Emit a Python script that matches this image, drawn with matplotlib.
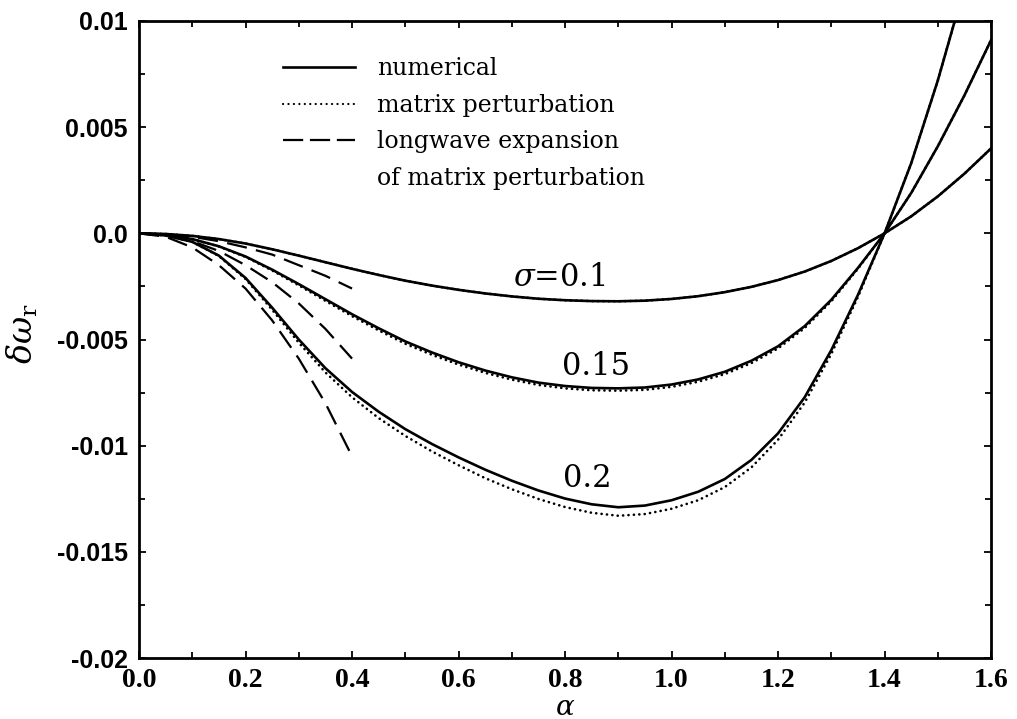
import matplotlib
matplotlib.use("Agg")
import matplotlib.pyplot as plt
from matplotlib.lines import Line2D
from matplotlib.ticker import MultipleLocator, FixedLocator

plt.rcParams["mathtext.fontset"] = "dejavuserif"

# wavenumber grid for the full curves
alpha = [0.0, 0.05, 0.1, 0.15, 0.2, 0.25, 0.3, 0.35, 0.4, 0.45, 0.5, 0.55, 0.6,
         0.65, 0.7, 0.75, 0.8, 0.85, 0.9, 0.95, 1.0, 1.05, 1.1, 1.15, 1.2, 1.25,
         1.3, 1.35, 1.4, 1.45, 1.5, 1.55, 1.6]

# numerical solution, one series per sigma
num_s010 = [0.0, -0.00003, -0.00012, -0.00027, -0.00048, -0.00075, -0.00105,
            -0.00136, -0.00167, -0.00196, -0.00223, -0.00246, -0.00266, -0.00283,
            -0.00297, -0.00308, -0.00315, -0.00319, -0.0032, -0.00317, -0.00309,
            -0.00296, -0.00277, -0.00252, -0.0022, -0.0018, -0.0013, -0.0007,
            0.0, 0.0008, 0.00174, 0.00281, 0.004]
num_s015 = [0.0, -0.00007, -0.00027, -0.00061, -0.00109, -0.00171, -0.00239,
            -0.0031, -0.00381, -0.00447, -0.00509, -0.00561, -0.00607, -0.00646,
            -0.00678, -0.00703, -0.00719, -0.00728, -0.0073, -0.00726, -0.00712,
            -0.00688, -0.00652, -0.006, -0.00532, -0.00437, -0.00313, -0.00163,
            0.0, 0.0019, 0.0041, 0.0065, 0.0091]
num_s020 = [0.0, -0.0001, -0.0004, -0.00105, -0.0021, -0.0035, -0.005, -0.00635,
            -0.00747, -0.0084, -0.00922, -0.00992, -0.01055, -0.01113, -0.01165,
            -0.01211, -0.01249, -0.01276, -0.0129, -0.01282, -0.01257, -0.01217,
            -0.01157, -0.01067, -0.00942, -0.00772, -0.0055, -0.0029, 0.0, 0.0033,
            0.0072, 0.0116, 0.0166]

# matrix perturbation results
mat_s010 = [0.0, -0.00003, -0.00012, -0.00027, -0.00048, -0.00075, -0.00105,
            -0.00136, -0.00167, -0.00196, -0.00223, -0.00246, -0.00266, -0.00283,
            -0.00297, -0.00308, -0.00315, -0.00319, -0.0032, -0.00317, -0.00309,
            -0.00296, -0.00277, -0.00252, -0.0022, -0.0018, -0.0013, -0.0007,
            0.0, 0.0008, 0.00174, 0.00281, 0.004]
mat_s015 = [0.0, -0.00007, -0.00027, -0.00062, -0.00111, -0.00175, -0.00245,
            -0.00318, -0.0039, -0.00457, -0.0052, -0.00572, -0.00618, -0.00657,
            -0.00689, -0.00714, -0.0073, -0.00739, -0.00741, -0.00737, -0.00723,
            -0.00699, -0.00663, -0.00611, -0.00542, -0.00446, -0.0032, -0.00167,
            0.0, 0.0019, 0.0041, 0.0065, 0.0091]
mat_s020 = [0.0, -0.0001, -0.0004, -0.00107, -0.00215, -0.0036, -0.00515, -0.00655,
            -0.00772, -0.0087, -0.00954, -0.01027, -0.01092, -0.01153, -0.01205,
            -0.01251, -0.01289, -0.01316, -0.0133, -0.01322, -0.01297, -0.01257,
            -0.01195, -0.01102, -0.00972, -0.00797, -0.00568, -0.003, 0.0, 0.0033,
            0.0072, 0.0116, 0.0166]

# longwave expansion of the matrix perturbation (small alpha only)
alpha_lw = [0.0, 0.05, 0.1, 0.15, 0.2, 0.25, 0.3, 0.35, 0.4]
lw_s010 = [0.0, -0.00004, -0.00016, -0.00037, -0.00066, -0.001, -0.0015, -0.002, -0.0026]
lw_s015 = [0.0, -0.00009, -0.00037, -0.00083, -0.0015, -0.0023, -0.0033, -0.0045, -0.0059]
lw_s020 = [0.0, -0.00016, -0.00066, -0.0015, -0.0026, -0.0041, -0.0059, -0.008, -0.0105]

sigma_labels = [r"$\sigma$=0.1", "0.15", "0.2"]
sigma_label_pos = [(0.789, -0.00206), (0.858, -0.00628), (0.842, -0.01153)]

legend_labels = ["numerical", "matrix perturbation", "longwave expansion",
                 "of matrix perturbation"]

x_ticks = [0.0, 0.2, 0.4, 0.6, 0.8, 1.0, 1.2, 1.4, 1.6]
x_ticklabels = ["0.0", "0.2", "0.4", "0.6", "0.8", "1.0", "1.2", "1.4", "1.6"]
y_ticks = [-0.02, -0.015, -0.01, -0.005, 0.0, 0.005, 0.01]
y_ticklabels = ["-0.02", "-0.015", "-0.01", "-0.005", "0.0", "0.005", "0.01"]

LW = 1.9
dotted = (0, (0.05, 2.0))
dashed = (0, (9.0, 4.2))

fig = plt.figure(figsize=(10.17, 7.19), dpi=100)
ax = fig.add_axes([0.1367, 0.0848, 0.8378, 0.886])

for ys in (mat_s010, mat_s015, mat_s020):
    ax.plot(alpha, ys, color="black", lw=LW, linestyle=dotted,
            dash_capstyle="round")
for ys in (num_s010, num_s015, num_s020):
    ax.plot(alpha, ys, color="black", lw=LW, linestyle="-",
            solid_joinstyle="round")
for ys in (lw_s010, lw_s015, lw_s020):
    ax.plot(alpha_lw, ys, color="black", lw=LW * 0.85, linestyle=dashed)

for txt, (xx, yy) in zip(sigma_labels, sigma_label_pos):
    ax.text(xx, yy, txt, ha="center", va="center", fontsize=22,
            family="DejaVu Serif")

ax.set_xlim(0.0, 1.6)
ax.set_ylim(-0.02, 0.01)

ax.xaxis.set_major_locator(FixedLocator(x_ticks))
ax.set_xticklabels(x_ticklabels, family="Liberation Serif", weight="bold",
                   fontsize=20)
ax.xaxis.set_minor_locator(MultipleLocator(0.1))
ax.yaxis.set_major_locator(FixedLocator(y_ticks))
ax.set_yticklabels(y_ticklabels, family="Liberation Sans", weight="bold",
                   fontsize=18)
ax.yaxis.set_minor_locator(MultipleLocator(0.0025))

ax.tick_params(which="both", direction="in", top=True, right=True,
               width=1.3)
ax.tick_params(which="major", length=5)
ax.tick_params(which="minor", length=4)
ax.tick_params(axis="x", which="major", pad=7)
ax.tick_params(axis="y", which="major", pad=8)

for sp in ax.spines.values():
    sp.set_linewidth(2.0)

ax.set_xlabel(r"$\alpha$", fontsize=20, labelpad=0)
ax.set_ylabel(r"$\delta\omega_{\rm r}$", fontsize=24)
ax.yaxis.set_label_coords(-0.116, 0.509)

handles = [
    Line2D([], [], color="black", lw=LW, linestyle="-"),
    Line2D([], [], color="black", lw=1.6, linestyle=(0, (0.05, 2.4)),
           dash_capstyle="round"),
    Line2D([], [], color="black", lw=LW * 0.85, linestyle=(0, (9, 3))),
    Line2D([], [], linestyle="none"),
]
ax.legend(handles, legend_labels, loc="upper left",
          bbox_to_anchor=(0.169, 0.943), frameon=False, borderpad=0,
          borderaxespad=0, handlelength=3.05, handletextpad=0.95,
          labelspacing=0.57, prop={"family": "DejaVu Serif", "size": 17})

fig.savefig("out.png", dpi=100)
